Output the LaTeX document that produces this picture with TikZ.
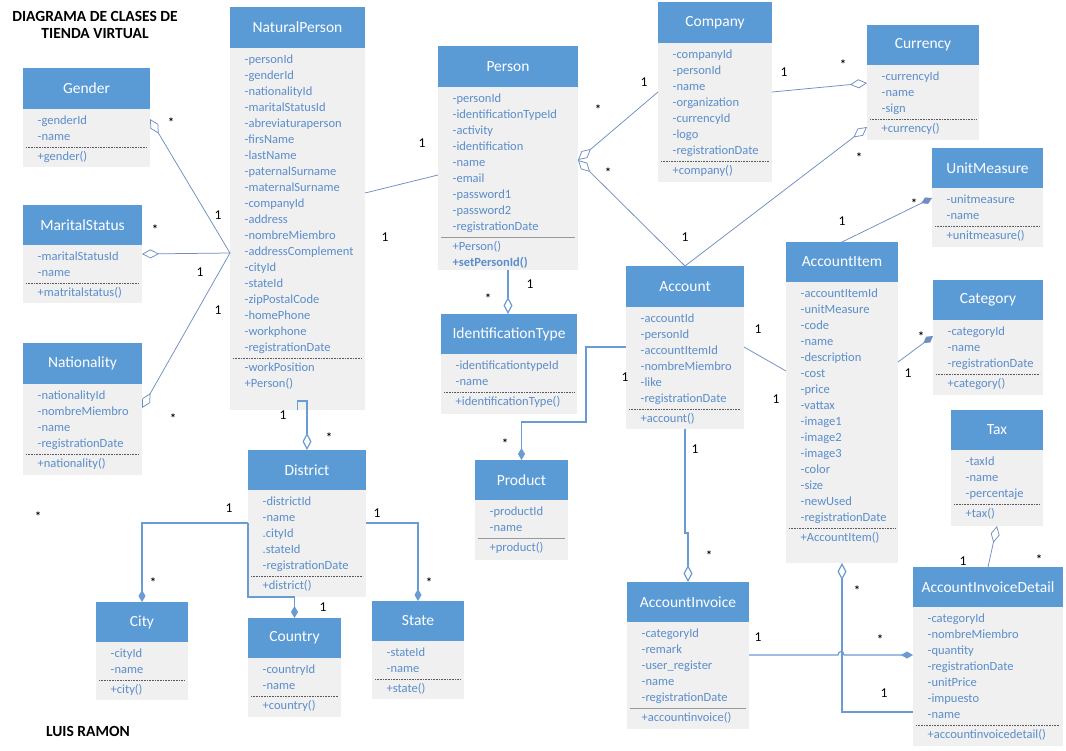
\documentclass[tikz,border=0pt]{standalone}
\usepackage{fontspec}
\setmainfont{Carlito}
\usetikzlibrary{arrows.meta}
\definecolor{hblue}{HTML}{5B9BD5}
\definecolor{bgrey}{HTML}{F0F0F0}
\definecolor{atext}{HTML}{5B8DCB}
\definecolor{lcol}{HTML}{6F8EC2}
\definecolor{ecol}{HTML}{6A9BD3}
\tikzset{
  hdr/.style={fill=hblue,text=white,font=\fontsize{15.5}{17}\selectfont,inner sep=0pt,outer sep=0pt,anchor=north west},
  bod/.style={fill=bgrey,inner sep=0pt,outer sep=0pt,anchor=north west},
  attr/.style={anchor=west,inner sep=0pt,text=atext,font=\fontsize{12.5}{14}\selectfont,text height=8pt,text depth=2.5pt},
  sepdot/.style={draw=black!65,line width=0.6pt,dash pattern=on 0.8pt off 0.8pt},
  sepsol/.style={draw=black!40,line width=0.8pt},
  assoc/.style={draw=lcol,line width=0.75pt},
  elbow/.style={draw=ecol,line width=1.2pt},
  odia/.style={-{Diamond[open,length=17pt,width=9pt]}},
  fdia/.style={-{Diamond[length=12pt,width=7pt]}},
  lab/.style={font=\fontsize{13.5}{15}\selectfont,inner sep=0pt,text=black},
  star/.style={font=\bfseries\fontsize{12}{14}\selectfont,inner sep=0pt,text=black,yshift=-2.5pt},
  ttl/.style={font=\bfseries\fontsize{15.5}{17}\selectfont,inner sep=0pt,text=black},
}
\def\sepkind{sepdot}
\newcommand\umlclass[9]{%
  \node[hdr,minimum width={(#4-#2)*1pt},minimum height={(#5-#3)*1pt}] (#1) at (#2,#3) {#7};
  \node[bod,minimum width={(#4-#2)*1pt},minimum height={(#6-#5)*1pt}] (#1b) at (#2,#5) {};
  \foreach \tx [count=\ci from 0] in {#8}{%
    \node[attr] (#1a\ci) at ({#2+14.5},{#5+12.5+16*\ci}) {\tx};
    \xdef\lastci{\ci}}%
  \pgfmathsetmacro\sepy{#5+12.5+16*\lastci+9.5}%
  \draw[\sepkind] ({#2+3},\sepy) -- ({#4-3},\sepy);
  \foreach \tx [count=\ci from 0] in {#9}{%
    \node[attr] (#1m\ci) at ({#2+14.5},{\sepy+10.5+16*\ci}) {\tx};}%
}
\begin{document}
\begin{tikzpicture}[x=1pt,y=-1pt]
\fill[white] (0,0) rectangle (1066,750);
\useasboundingbox (0,0) rectangle (1066,750);

% titles
\node[ttl] (title1) at (95,16) {DIAGRAMA DE CLASES DE};
\node[ttl] (title2) at (95,34) {TIENDA VIRTUAL};
\node[ttl] (author) at (88,731) {LUIS RAMON};

% classes
\umlclass{gender}{23}{68}{150}{109}{167}{Gender}{-genderId,-name}{+gender()}
\umlclass{marital}{23}{205}{142}{245}{303}{MaritalStatus}{-maritalStatusId,-name}{+matritalstatus()}
\umlclass{nation}{23}{343}{142}{384}{475}{Nationality}{-nationalityId,-nombreMiembro,-name,-registrationDate}{+nationality()}
\umlclass{np}{230}{7}{365}{48}{410}{NaturalPerson}{-personId,-genderId,-nationalityId,-maritalStatusId,-abreviaturaperson,-firsName,-lastName,-paternalSurname,-maternalSurname,-companyId,-address,-nombreMiembro,-addressComplement,-cityId,-stateId,-zipPostalCode,-homePhone,-workphone,-registrationDate}{-workPosition,+Person()}
\def\sepkind{sepsol}
\umlclass{person}{438}{46}{578}{87}{270}{Person}{-personId,-identificationTypeId,-activity,-identification,-name,-email,-password1,-password2,-registrationDate}{+Person(),\textbf{+setPersonId()}}
\def\sepkind{sepdot}
\umlclass{company}{658}{2}{772}{43}{182}{Company}{-companyId,-personId,-name,-organization,-currencyId,-logo,-registrationDate}{+company()}
\umlclass{currency}{867}{25}{979}{65}{140}{Currency}{-currencyId,-name,-sign}{+currency()}
\umlclass{unit}{932}{148}{1043}{188}{247}{UnitMeasure}{-unitmeasure,-name}{+unitmeasure()}
\umlclass{account}{626}{266}{744}{307}{429}{Account}{-accountId,-personId,-accountItemId,-nombreMiembro,-like,-registrationDate}{+account()}
\umlclass{item}{786}{242}{898}{282}{563}{AccountItem}{-accountItemId,-unitMeasure,-code,-name,-description,-cost,-price,-vattax,-image1,-image2,-image3,-color,-size,-newUsed,-registrationDate}{+AccountItem()}
\umlclass{category}{933}{280}{1043}{320}{395}{Category}{-categoryId,-name,-registrationDate}{+category()}
\umlclass{tax}{951}{410}{1043}{450}{526}{Tax}{-taxId,-name,-percentaje}{+tax()}
\umlclass{idtype}{441}{314}{577}{354}{414}{IdentificationType}{-identificationtypeId,-name}{+identificationType()}
\def\sepkind{sepsol}
\umlclass{product}{475}{460}{568}{500}{560}{Product}{-productId,-name}{+product()}
\def\sepkind{sepdot}
\umlclass{district}{248}{450}{366}{490}{597}{District}{-districtId,-name,.cityId,.stateId,-registrationDate}{+district()}
\umlclass{city}{96}{602}{188}{642}{700}{City}{-cityId,-name}{+city()}
\umlclass{country}{248}{618}{341}{658}{717}{Country}{-countryId,-name}{+country()}
\umlclass{state}{372}{601}{464}{641}{699}{State}{-stateId,-name}{+state()}
\def\sepkind{sepsol}
\umlclass{invoice}{627}{582}{749}{622}{729}{AccountInvoice}{-categoryId,-remark,-user\_register,-name,-registrationDate}{+accountinvoice()}
\def\sepkind{sepdot}
\umlclass{detail}{913}{567}{1063}{607}{746}{AccountInvoiceDetail}{-categoryId,-nombreMiembro,-quantity,-registrationDate,-unitPrice,-impuesto,-name}{+accountinvoicedetail()}

% connectors (slanted)
\draw[assoc,odia] (npb.west |- 0,253) -- (genderb.east |- 0,119);
\draw[assoc,odia] (npb.west |- 0,253) -- (maritalb.east |- 0,254);
\draw[assoc,odia] (npb.west |- 0,253) -- (nationb.east |- 0,408);
\draw[assoc] (npb.east |- 0,193) -- (personb.west |- 0,175);
\draw[assoc,odia] (companyb.west |- 0,92) -- (personb.east |- 0,160);
\draw[assoc,odia] (account.north) -- (personb.east |- 0,160);
\draw[assoc,odia] (account.north) -- (currencyb.west |- 0,127);
\draw[assoc,odia] (companyb.east |- 0,92) -- (currencyb.west |- 0,83);
\draw[assoc,fdia] (item.north) -- (unitb.west |- 0,198);
\draw[assoc] (accountb.east |- 0,347) -- (itemb.west |- 0,371);
\draw[assoc,fdia] (itemb.east |- 0,362) -- (categoryb.west |- 0,336);
\draw[assoc,odia] (detail.north -| 988,0) -- (taxb.south);

% connectors (elbow)
\draw[elbow,fdia] (accountb.west |- 0,347) -- ++(-40,0) |- (product.north |- 0,422) -- (product.north);
\draw[elbow,odia] (personb.south) -- (personb.south |- idtype.north);
\draw[elbow,odia] (npb.south) -- ++(0,-9) -| (district.north);
\draw[elbow,fdia] (districtb.west |- 0,523) -| (city.north);
\draw[elbow,fdia] (districtb.west |- 0,523) -- (districtb.south west) -| (country.north);
\draw[elbow,fdia] (districtb.east |- 0,523) -| (state.north);
\draw[elbow,odia] (accountb.south) -- ++(0,104) -| (invoice.north);
\draw[elbow,fdia] (invoiceb.east |- 0,655) -- (838,655) .. controls (838,650.5) and (844,650.5) .. (844,655) -- (detailb.west |- 0,655);
\draw[elbow,odia] (detailb.west |- 0,712) -| (itemb.south);

% multiplicities
\foreach \p [count=\i] in {(218,215),(200,272),(218,310),(422,143),(385,237),(644,82),(685,237),(784,72),(842,221),(530,284),(625,377),(758,329),(776,399),(695,449),(908,373),(963,561),(758,637),(884,693),(283,415),(229,508),(377,513),(323,607)}
  \node[lab] (one\i) at \p {1};
\foreach \p [count=\i] in {(171,120),(155,227),(173,416),(38,514),(329,435),(153,580),(429,580),(598,107),(608,170),(843,62),(859,155),(914,201),(921,334),(488,296),(505,441),(709,553),(857,588),(880,637),(1039,557)}
  \node[star] (many\i) at \p {*};
\end{tikzpicture}
\end{document}
